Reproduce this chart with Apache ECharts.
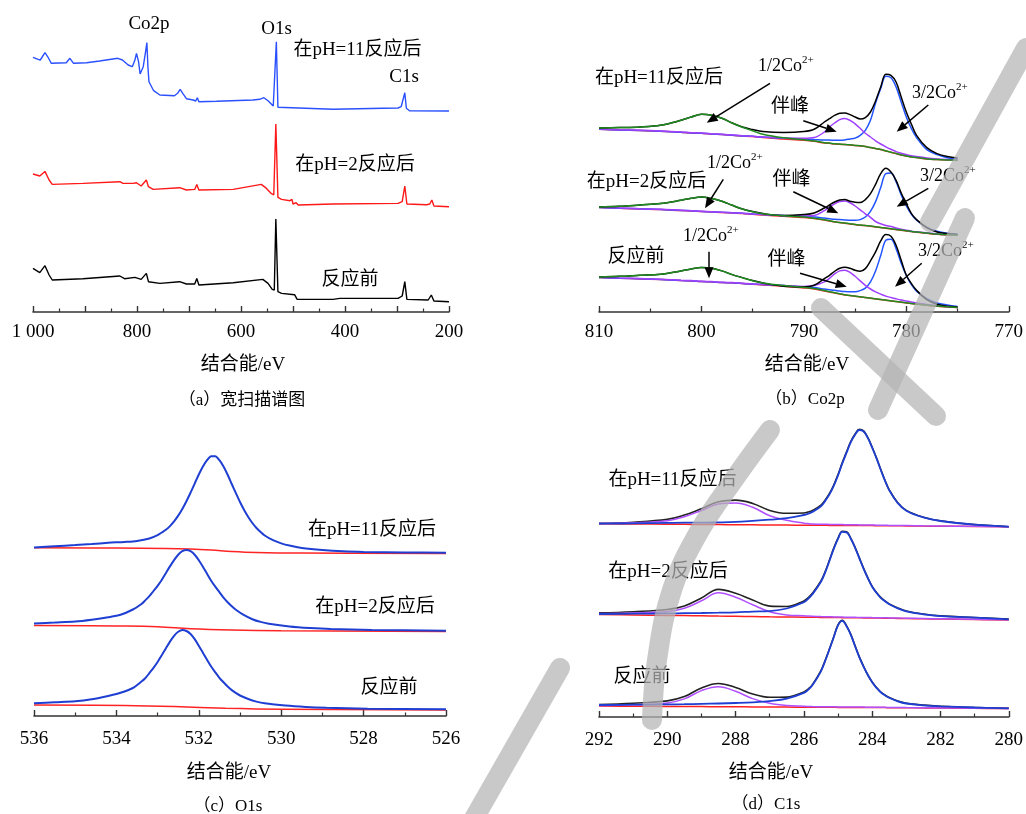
<!DOCTYPE html>
<html>
<head>
<meta charset="utf-8">
<script src="https://cdn.jsdelivr.net/npm/echarts@6/dist/echarts.min.js"></script>
<style>
  html, body { margin: 0; padding: 0; background: #fff; }
  #chart { width: 1026px; height: 814px; }
</style>
</head>
<body>
<div id="chart"></div>
<script>
// ---------- (a) survey spectra: binding energy (eV) / intensity (a.u.) ----------
const surveyE_pH11 = [1000, 990, 986, 977, 971, 965, 936, 929, 922, 897, 872, 837, 828, 817, 809, 804, 801, 797, 794, 788, 784, 781, 779, 777, 772, 768, 756, 728, 722, 717, 712, 705, 692, 687, 684, 681, 647, 577, 564, 556, 548, 538, 535, 532, 529, 526, 423, 327, 298, 292, 285, 282, 276, 200];
const surveyI_pH11 = [53.7, 51.7, 51, 58.3, 53.7, 47.7, 48.3, 52.7, 47.7, 48.3, 50, 52.7, 51, 46, 44.3, 51, 57.7, 49.3, 37, 44.3, 57.7, 68.3, 44.3, 29.3, 24.3, 20.3, 16, 15.3, 17.7, 21.7, 17.7, 12.3, 11, 10, 13.3, 9.3, 9.7, 11, 11.7, 13.3, 10.3, 5, 3.7, 69.3, 3.7, 2, 1.7, 2.7, 3, 4.3, 18.3, 2.7, 0.3, 0];
const surveyE_pH2 = [1000, 987, 977, 969, 963, 904, 833, 827, 808, 801, 792, 782, 778, 769, 718, 705, 689, 685, 681, 615, 561, 551, 542, 537, 533, 529, 522, 506, 502, 500, 494, 490, 423, 298, 290, 285, 281, 243, 237, 233, 229, 200];
const surveyI_pH2 = [32.7, 30.7, 35.3, 26.7, 22.3, 23.3, 25, 23.3, 23.3, 24, 20.7, 26.7, 20, 17.3, 19, 16.7, 17.3, 22.3, 16.7, 17.3, 22.3, 18.3, 13.3, 11.7, 82.7, 9.3, 7.3, 6, 7.3, 2.7, 4, 1.7, 2.7, 3.3, 5, 20.7, 2.7, 2, 2.7, 6.7, 0.7, 0];
const surveyE_fresh = [1000, 987, 977, 969, 963, 904, 833, 824, 804, 792, 782, 778, 756, 718, 705, 689, 685, 681, 615, 558, 548, 540, 536, 533, 529, 522, 497, 492, 423, 410, 298, 290, 285, 281, 240, 234, 229, 200];
const surveyI_fresh = [33.3, 29, 36, 26.7, 21.7, 23, 25.7, 23, 24.3, 22.3, 28.3, 20, 18.3, 20, 17.7, 17.7, 23.3, 16.7, 19, 22.3, 18.3, 12.3, 11.7, 82.7, 10, 8.3, 7, 2.3, 2.3, 3.3, 3.3, 5.7, 20, 2.3, 1.7, 6.7, 0.7, 0];

// ---------- (b) Co2p fits ----------
const coE = [810, 808, 806, 804, 802, 801, 800, 799, 798, 797, 796, 795, 794, 792, 790, 789, 788, 787.5, 787, 786.5, 786, 785.5, 785, 784.5, 784, 783.5, 783, 782.5, 782, 781.5, 781, 780.5, 780, 779.5, 779, 778, 777, 776, 775];
// pH = 11
const co11_bg    = [31, 30.3, 29.7, 29, 28, 27.3, 27, 26.3, 25.7, 25, 24.3, 23.7, 22.7, 21.3, 20, 19, 17.3, 17, 16.3, 16, 15.7, 15.3, 14.7, 14.3, 13.7, 12.7, 11.7, 10.7, 9.3, 8, 6.7, 5.3, 4.3, 3.3, 2.7, 1.3, 0.7, 0.3, 0];
const co11_half  = [32.3, 32.7, 33.3, 35, 40, 43.3, 46, 45, 42, 37.3, 33, 29.5, 26, 22.5, 20.5, 19.3, 17.6, 17.2, 16.5, 16.2, 15.9, 15.5, 14.9, 14.5, 13.8, 12.8, 11.8, 10.8, 9.4, 8.1, 6.8, 5.4, 4.4, 3.4, 2.8, 1.4, 0.8, 0.4, 0.1];
const co11_sat   = [31.3, 30.6, 30, 29.3, 28.3, 27.6, 27.3, 26.6, 26, 25.3, 24.6, 24, 23.2, 22.3, 22, 22.7, 28.3, 33.3, 37.3, 40.7, 41.7, 40, 36.5, 32, 27, 23.3, 19.5, 16.3, 13.5, 11, 8.7, 7, 5.7, 4.5, 3.8, 2.3, 1.3, 0.7, 0.3];
const co11_main  = [31.1, 30.4, 29.8, 29.1, 28.1, 27.4, 27.1, 26.4, 25.8, 25.1, 24.4, 24, 23.2, 22.1, 21.3, 20.8, 20.3, 20.3, 20, 20, 20.4, 21.3, 22.2, 25, 30, 40, 57.4, 71.7, 84, 82.5, 73.4, 58.3, 43.3, 31.6, 22.7, 10.6, 5.7, 2.6, 1.3];
const co11_env   = [32.3, 32.7, 33.3, 35, 40, 43.3, 46, 45, 42, 37.3, 33.3, 30.7, 28.7, 27.7, 28.7, 31, 38.3, 41.7, 45, 47, 47.3, 45.7, 43.3, 41.3, 42.7, 48.3, 59.3, 73.3, 86, 85, 78.3, 63.3, 48.3, 36, 25, 12.7, 6.7, 3.7, 2.3];
// pH = 2
const co2_bg     = [27.7, 27, 26.3, 25.7, 24.7, 24.3, 23.7, 23.3, 22.7, 22.3, 21.7, 21, 20.3, 19, 17.7, 16.7, 15.3, 14.3, 13.3, 12.7, 12, 11.3, 10.7, 10, 9.7, 9, 8.3, 7.7, 7, 6.3, 5.7, 5, 4.3, 3.7, 3, 2, 1, 0.3, 0];
const co2_half   = [28.3, 29, 30.3, 31.7, 35, 37, 38.3, 36.7, 34, 30, 26.3, 23.5, 21.5, 19.5, 18.2, 17, 15.6, 14.5, 13.5, 12.9, 12.2, 11.5, 10.9, 10.2, 9.9, 9.2, 8.5, 7.9, 7.2, 6.5, 5.9, 5.2, 4.5, 3.9, 3.2, 2.2, 1.2, 0.5, 0.1];
const co2_sat    = [28, 27.3, 26.6, 26, 25, 24.6, 24, 23.6, 23, 22.6, 22, 21.3, 20.7, 19.7, 19.2, 19.7, 24.6, 28.3, 31.5, 33.7, 34.2, 32.5, 29.3, 25.5, 21.5, 18, 13.8, 11.5, 9.8, 8.8, 7.3, 6, 5, 4.2, 3.5, 2.4, 1.4, 0.7, 0.3];
const co2_main   = [27.8, 27.1, 26.5, 25.9, 24.9, 24.5, 23.9, 23.5, 23, 22.6, 22.1, 21.4, 20.8, 19.8, 18.8, 18.2, 17.2, 16.6, 16, 15.7, 15.3, 15, 15, 15.7, 18.3, 24, 33.7, 47.7, 61.7, 62.3, 53.7, 40.3, 29.3, 21, 15, 8, 4, 2, 1];
const co2_env    = [28.3, 29, 30.3, 31.7, 35, 37, 38.3, 36.7, 34, 30, 26.3, 23.7, 21.7, 19.7, 20.7, 22.3, 27.3, 30.3, 33.3, 35.3, 35.7, 34, 33, 32.7, 35.7, 41.7, 51, 61.7, 67, 63.3, 55, 42.3, 31.7, 21.7, 15.7, 7.7, 3.3, 1.7, 0.7];
// before reaction
const co0_bg     = [30, 29.3, 28.7, 28, 27, 26.7, 26, 25.7, 25, 24.7, 24, 23.3, 22.7, 21.3, 19.7, 18.7, 16.7, 15.7, 14.7, 13.7, 12.7, 12, 11.3, 10.7, 10, 9.3, 8.7, 8, 7.3, 6.7, 6, 5.3, 4.7, 4, 3.3, 2.3, 1.3, 0.7, 0];
const co0_half   = [30.7, 31.3, 32.3, 33.3, 36.7, 38.7, 40, 39.3, 36.7, 33, 29.8, 26.8, 24.5, 22, 20.2, 19, 17, 15.9, 14.9, 13.9, 12.9, 12.2, 11.5, 10.9, 10.2, 9.5, 8.9, 8.2, 7.5, 6.9, 6.2, 5.5, 4.9, 4.2, 3.5, 2.5, 1.5, 0.8, 0.1];
const co0_sat    = [30.3, 29.6, 29, 28.3, 27.3, 27, 26.3, 26, 25.3, 25, 24.3, 23.6, 23.1, 22.1, 21.2, 22, 25.7, 29.2, 33.7, 36.7, 37.3, 35.3, 31.3, 26.7, 22.3, 18.6, 15.7, 13.5, 11.5, 10.1, 8.8, 7.6, 6.6, 5.6, 4.6, 3.2, 1.9, 1.1, 0.2];
const co0_main   = [30.1, 29.4, 28.8, 28.1, 27.1, 26.8, 26.1, 25.8, 25.1, 24.8, 24.2, 23.5, 23, 22, 20.7, 20.1, 18.5, 17.9, 17.3, 16.6, 16, 15.8, 15.8, 17, 19.5, 25.8, 36.7, 52, 67.3, 68.4, 59, 44.3, 32.2, 23, 16.5, 8.9, 4.6, 2.6, 1.1];
const co0_env    = [30.7, 31.3, 32.3, 33.3, 36.7, 38.7, 40, 39.3, 36.7, 33, 30, 27, 24.7, 21.3, 20.7, 22.3, 29, 32.3, 36.3, 39.3, 40.3, 39.3, 37.3, 36.3, 39, 46.7, 55.7, 66.7, 73, 71.3, 62.3, 47.3, 32.3, 24, 17.3, 8, 3.3, 1.3, 0.7];

// ---------- (c) O1s fits ----------
const o11E_fit = [536, 535.5, 535, 534.6, 534.2, 533.8, 533.5, 533.2, 533, 532.9, 532.8, 532.7, 532.6, 532.5, 532.4, 532.3, 532.2, 532.1, 532, 531.9, 531.8, 531.7, 531.6, 531.5, 531.4, 531.3, 531.2, 531.1, 531, 530.9, 530.8, 530.7, 530.6, 530.5, 530.4, 530.2, 530, 529.8, 529.5, 529, 528.5, 528, 527, 526];
const o11I_fit = [5.3, 6.5, 7.6, 8.7, 9.9, 10.8, 11.8, 14.2, 17.6, 20.2, 22.9, 26.6, 31.3, 37.1, 43.8, 51.5, 60.1, 69.1, 78.2, 86.2, 92.5, 96.5, 96.5, 92.5, 86.2, 78, 68.7, 59.5, 50.7, 42.7, 35.7, 29.7, 24.7, 20.7, 17.2, 12.5, 9.3, 7.1, 4.8, 2.7, 1.4, 0.8, 0.3, 0];
const o11E_bg  = [536, 534, 532.8, 532.2, 531.7, 531.2, 530.6, 529.5, 526];
const o11I_bg  = [5, 4.7, 4.3, 3.7, 2.7, 1.3, 0.3, -0.3, -0.7];
const o2E_fit  = [536, 535.5, 535, 534.6, 534.2, 533.9, 533.6, 533.4, 533.3, 533.2, 533.1, 533, 532.9, 532.8, 532.7, 532.6, 532.5, 532.4, 532.3, 532.2, 532.1, 532, 531.9, 531.8, 531.7, 531.6, 531.5, 531.4, 531.3, 531.2, 531.1, 530.9, 530.7, 530.5, 530.3, 529.8, 529.3, 528.8, 527.8, 526];
const o2I_fit  = [7.3, 8.2, 9.2, 11, 13.4, 15.9, 21.2, 26.5, 30.3, 34.5, 39.7, 44.9, 50.7, 57.5, 64.3, 70.6, 76, 79.5, 80.7, 79.5, 76, 70.5, 64, 57, 50, 44, 38.5, 33, 28.5, 24.5, 21, 15.5, 11.5, 8.8, 7, 4.2, 2.6, 1.6, 0.8, 0];
const o2E_bg   = [536, 534, 533, 532.2, 531.2, 530, 526];
const o2I_bg   = [5.3, 4.7, 4, 2, 0.7, 0, -0.7];
const o0E_fit  = [536, 535.5, 535, 534.6, 534.2, 533.9, 533.6, 533.4, 533.3, 533.2, 533.1, 533, 532.9, 532.8, 532.7, 532.6, 532.5, 532.4, 532.3, 532.2, 532.1, 532, 531.9, 531.8, 531.7, 531.6, 531.5, 531.4, 531.3, 531.2, 531, 530.8, 530.6, 530.4, 529.9, 529.4, 528.9, 527.9, 526];
const o0I_fit  = [6, 7, 8, 10, 13.3, 16.5, 21.3, 27.5, 31, 36.2, 41.4, 47.3, 54, 60.9, 67.7, 73.5, 77.5, 79.3, 78.3, 75.3, 70.2, 63.5, 56.5, 49.5, 42.8, 37, 31.5, 27, 22.8, 19.2, 13.8, 10.3, 7.7, 6, 3.7, 2.3, 1.5, 0.6, 0];
const o0E_bg   = [536, 533.8, 532.6, 531.35, 530, 526];
const o0I_bg   = [4.3, 3.7, 2.7, 1, 0, -0.7];

// ---------- (d) C1s fits ----------
const cE = [292, 291, 290, 289.5, 289, 288.5, 288, 287.5, 287, 286.5, 286, 285.875, 285.75, 285.5, 285.375, 285.25, 285.125, 285, 284.875, 284.75, 284.625, 284.5, 284.375, 284.25, 284.125, 284, 283.875, 283.75, 283.625, 283.5, 283.25, 283, 282.5, 282, 281, 280];
const c11_bg   = [3, 2.7, 2.5, 2.4, 2.2, 2.1, 2, 1.9, 1.7, 1.6, 1.5, 1.45, 1.4, 1.4, 1.35, 1.3, 1.3, 1.3, 1.25, 1.2, 1.2, 1.2, 1.15, 1.1, 1.1, 1.1, 1.05, 1, 0.95, 0.9, 0.85, 0.8, 0.6, 0.5, 0.3, 0];
const c11_cc   = [3, 3.3, 3.8, 4, 4, 4.3, 4.8, 5.8, 7, 8.5, 11.7, 13, 14.8, 20.5, 25.8, 32.3, 40.8, 51.3, 63.2, 74, 84.5, 92, 96.7, 95.2, 88.5, 79, 68.5, 57, 46, 36.5, 23.5, 16, 9.3, 5.7, 2, 0];
const c11_oco  = [3.3, 3.9, 6, 10, 16.2, 22.7, 23.8, 19.4, 11, 6.5, 3.5, 3.1, 2.8, 2.5, 2.4, 2.3, 2.2, 2.15, 2.1, 2, 1.95, 1.9, 1.8, 1.7, 1.65, 1.6, 1.55, 1.45, 1.38, 1.3, 1.2, 1.1, 0.85, 0.7, 0.4, 0];
const c11_env  = [3.3, 4.5, 7.3, 11.6, 18, 24.9, 26.6, 23.3, 16.3, 13.4, 13.7, 14.65, 16.2, 21.6, 26.85, 33.3, 41.7, 52.15, 64.05, 74.8, 85.25, 92.7, 97.35, 95.8, 89.05, 79.5, 69, 57.45, 46.43, 36.9, 23.85, 16.3, 9.55, 5.9, 2.1, 0];
const c2_bg    = [4.7, 4.3, 3.9, 3.7, 3.5, 3.2, 3, 2.8, 2.5, 2.3, 2.1, 2.05, 2, 1.9, 1.85, 1.8, 1.75, 1.7, 1.65, 1.6, 1.55, 1.5, 1.45, 1.4, 1.35, 1.3, 1.25, 1.2, 1.1, 1, 0.9, 0.8, 0.5, 0.3, -0.2, -0.7];
const c2_cc    = [5.3, 5.6, 5.9, 6.1, 6.3, 6.6, 7, 7.7, 8.2, 10.8, 17, 20.5, 25, 37.5, 47, 58.5, 70.5, 80.5, 87.5, 87, 80.5, 71.5, 61, 50.5, 41, 32.5, 26.5, 21.5, 18, 15, 11, 8, 5, 3.2, 1.6, 0];
const c2_oco   = [5.8, 6.3, 7.8, 11, 18.5, 26.5, 22, 14.5, 7.5, 4.3, 3.5, 3.2, 3, 2.7, 2.6, 2.5, 2.4, 2.3, 2.2, 2.1, 2, 1.95, 1.9, 1.85, 1.8, 1.7, 1.65, 1.6, 1.5, 1.4, 1.25, 1.1, 0.8, 0.5, 0, -0.5];
const c2_env   = [6.4, 7.6, 9.8, 13.4, 21.3, 29.9, 26, 19.4, 13.2, 12.8, 18.4, 21.65, 26, 38.3, 47.75, 59.2, 71.15, 81.1, 88.05, 87.5, 80.95, 71.95, 61.45, 50.95, 41.45, 32.9, 26.9, 21.9, 18.4, 15.4, 11.35, 8.3, 5.3, 3.4, 1.8, 0.2];
const c0_bg    = [2.3, 2.1, 1.9, 1.8, 1.7, 1.6, 1.5, 1.4, 1.3, 1.2, 1.1, 1.08, 1.05, 1, 0.98, 0.96, 0.94, 0.92, 0.9, 0.88, 0.86, 0.84, 0.82, 0.8, 0.78, 0.76, 0.74, 0.72, 0.68, 0.65, 0.58, 0.5, 0.4, 0.3, 0, -0.3];
const c0_cc    = [3.3, 3.6, 3.9, 4.1, 4.4, 4.8, 5.3, 6, 7.2, 9.6, 15.4, 18.5, 23, 37, 47.5, 59, 71, 83, 87.5, 82, 73.5, 62, 51, 41.5, 33, 26, 20.5, 16, 13, 10.5, 7, 4.8, 3, 2, 0.8, 0];
const c0_oco   = [2.7, 3.6, 5.4, 9.4, 17.7, 21.6, 17, 9.7, 5.1, 2.8, 2, 1.85, 1.75, 1.6, 1.56, 1.52, 1.48, 1.42, 1.38, 1.34, 1.3, 1.26, 1.22, 1.18, 1.14, 1.1, 1.06, 1.02, 0.95, 0.9, 0.8, 0.7, 0.55, 0.4, 0.05, -0.3];
const c0_env   = [3.7, 5.1, 7.4, 11.7, 20.4, 24.8, 20.8, 14.3, 11, 11.2, 16.3, 19.27, 23.7, 37.6, 48.08, 59.56, 71.54, 83.5, 87.98, 82.46, 73.94, 62.42, 51.4, 41.88, 33.36, 26.34, 20.82, 16.3, 13.27, 10.75, 7.22, 5, 3.15, 2.1, 0.85, 0];

// sample labels
const sampleNames = ['在pH=11反应后', '在pH=2反应后', '反应前'];
const axisTitle = '结合能/eV';
const captions = ['（a）宽扫描谱图', '（b）Co2p', '（c）O1s', '（d）C1s'];

// ---------- layout / style ----------
const SERIF = "'Liberation Serif','Noto Sans CJK SC',serif";
const AXIS_COLOR = '#333';
const grids = [
  { left: 33, top: 30, width: 416, height: 282 },   // a
  { left: 599, top: 30, width: 414, height: 282 },  // b
  { left: 34, top: 420, width: 412, height: 296 },  // c
  { left: 599, top: 420, width: 411, height: 297 }  // d
];
const xRanges = [
  { min: 200, max: 1000, interval: 100, labelEvery: 200, margin: 11 },
  { min: 770, max: 810, interval: 10, labelEvery: 10, margin: 11 },
  { min: 526, max: 536, interval: 2, labelEvery: 2, margin: 14 },
  { min: 280, max: 292, interval: 2, labelEvery: 2, margin: 14 }
];
// vertical stacking of the three samples in each panel (pH11, pH2, fresh)
const stackOffset = [
  [201, 105.3, 10.3],
  [151.7, 76.7, 4.4],
  [163.3, 85.3, 6.7],
  [190.3, 97.7, 8.7]
];

const chart = echarts.init(document.getElementById('chart'), null, { renderer: 'canvas' });

const xAxes = xRanges.map((r, i) => ({
  type: 'value', gridIndex: i, inverse: true,
  min: r.min, max: r.max, interval: r.interval,
  axisLine: { show: true, onZero: false, lineStyle: { color: AXIS_COLOR, width: 1.6 } },
  axisTick: { show: true, inside: true, length: 6, lineStyle: { color: AXIS_COLOR, width: 1.4 } },
  minorTick: { show: true, splitNumber: 2, length: 3.5, lineStyle: { color: AXIS_COLOR, width: 1.2 } },
  splitLine: { show: false }, minorSplitLine: { show: false },
  axisLabel: {
    show: true, margin: r.margin, color: '#000', fontSize: 19, fontFamily: SERIF,
    showMinLabel: true, showMaxLabel: true,
    formatter: v => {
      if (Math.round(v) % r.labelEvery !== 0) return '';
      return v === 1000 ? '1 000' : String(v);
    }
  }
}));
const yAxes = grids.map((g, i) => ({
  type: 'value', gridIndex: i, min: 0, max: g.height, show: false
}));

function line(gi, xs, ys, off, color, width, z, smooth) {
  return {
    type: 'line', xAxisIndex: gi, yAxisIndex: gi,
    data: xs.map((x, k) => [x, ys[k] + off]),
    showSymbol: false, symbol: 'none', smooth: smooth, clip: false, silent: true,
    lineStyle: { color: color, width: width }, z: z, animation: false
  };
}

const series = [];
// (a)
const BLUE_A = '#2a50ff', RED_A = '#ff1818';
series.push(line(0, surveyE_pH11, surveyI_pH11, stackOffset[0][0], BLUE_A, 1.4, 3, false));
series.push(line(0, surveyE_pH2, surveyI_pH2, stackOffset[0][1], RED_A, 1.4, 3, false));
series.push(line(0, surveyE_fresh, surveyI_fresh, stackOffset[0][2], '#000', 1.4, 3, false));
// (b): background, Co 2p3/2 main line, satellite, envelope, Co 2p1/2
const coSets = [
  [co11_bg, co11_half, co11_sat, co11_main, co11_env],
  [co2_bg, co2_half, co2_sat, co2_main, co2_env],
  [co0_bg, co0_half, co0_sat, co0_main, co0_env]
];
coSets.forEach((s, k) => {
  const off = stackOffset[1][k];
  series.push(line(1, coE, s[0], off, '#ff2a2a', 1.5, 2, 0.35));
  series.push(line(1, coE, s[3], off, '#2255ff', 1.5, 3, 0.35));
  series.push(line(1, coE, s[2], off, '#a040ff', 1.5, 4, 0.35));
  series.push(line(1, coE, s[4], off, '#000', 1.5, 5, 0.35));
  series.push(line(1, coE, s[1], off, '#1f8a1f', 1.5, 6, 0.35));
});
// (c)
const BLUE_C = '#1f3fd2';
const oSets = [
  [o11E_bg, o11I_bg, o11E_fit, o11I_fit],
  [o2E_bg, o2I_bg, o2E_fit, o2I_fit],
  [o0E_bg, o0I_bg, o0E_fit, o0I_fit]
];
oSets.forEach((s, k) => {
  const off = stackOffset[2][k];
  series.push(line(2, s[0], s[1], off, '#ff2424', 1.5, 3, 0.4));
  series.push(line(2, s[2], s[3], off, BLUE_C, 2, 4, 0.3));
});
// (d)
const cSets = [
  [c11_bg, c11_cc, c11_oco, c11_env],
  [c2_bg, c2_cc, c2_oco, c2_env],
  [c0_bg, c0_cc, c0_oco, c0_env]
];
cSets.forEach((s, k) => {
  const off = stackOffset[3][k];
  series.push(line(3, cE, s[0], off, '#ff2020', 1.5, 2, 0.4));
  series.push(line(3, cE, s[3], off, '#222', 1.6, 3, 0.4));
  series.push(line(3, cE, s[2], off, '#b050ff', 1.5, 4, 0.4));
  series.push(line(3, cE, s[1], off, BLUE_C, 1.8, 5, 0.4));
});

// ---------- annotations ----------
const graphics = [];
function text(x, y, str, size, align) {
  graphics.push({
    type: 'text', x: x, y: y, silent: true, z: 50,
    style: { text: str, fill: '#000', font: size + 'px ' + SERIF, align: align || 'center', verticalAlign: 'middle' }
  });
}
function ionText(x, y, str) {
  // "1/2Co" with a raised "2+"
  graphics.push({
    type: 'text', x: x, y: y, silent: true, z: 50,
    style: {
      text: '{m|' + str + '}{s|2+}', align: 'left', verticalAlign: 'middle',
      rich: {
        m: { fontSize: 18, fontFamily: SERIF, fill: '#000', lineHeight: 20, verticalAlign: 'bottom' },
        s: { fontSize: 11, fontFamily: SERIF, fill: '#000', lineHeight: 20, verticalAlign: 'top' }
      }
    }
  });
}
function arrow(x1, y1, x2, y2, color) {
  const a = Math.atan2(y2 - y1, x2 - x1);
  const L = 11, W = 4.5;
  const bx = x2 - L * Math.cos(a), by = y2 - L * Math.sin(a);
  const nx = -Math.sin(a), ny = Math.cos(a);
  graphics.push({ type: 'line', silent: true, z: 40, shape: { x1: x1, y1: y1, x2: bx, y2: by }, style: { stroke: color, lineWidth: 1.5 } });
  graphics.push({ type: 'polygon', silent: true, z: 40, shape: { points: [[x2, y2], [bx + W * nx, by + W * ny], [bx - W * nx, by - W * ny]] }, style: { fill: color } });
}

// (a)
text(149, 24, 'Co2p', 19);
text(276.5, 29, 'O1s', 19);
text(404, 77, 'C1s', 19);
text(357.5, 50, sampleNames[0], 19);
text(355, 165, sampleNames[1], 19);
text(350, 280, sampleNames[2], 19);
// (b)
text(659, 78, sampleNames[0], 19);
text(646.5, 182, sampleNames[1], 19);
text(636, 257, sampleNames[2], 19);
ionText(758, 65, '1/2Co'); ionText(707, 162, '1/2Co'); ionText(683, 235, '1/2Co');
ionText(912, 92, '3/2Co'); ionText(920, 175, '3/2Co'); ionText(918, 250, '3/2Co');
text(790, 107, '伴峰', 19); text(791.5, 180, '伴峰', 19); text(786.5, 260, '伴峰', 19);
arrow(770, 83.3, 706.7, 122.7, '#000');
arrow(803.3, 120.7, 836.7, 131.7, '#000');
arrow(928.3, 105, 896.7, 131.7, '#000');
arrow(723.3, 179.3, 705, 208.3, '#000');
arrow(793.3, 191.7, 838.3, 213.3, '#000');
arrow(928.3, 188.3, 896.7, 206.7, '#000');
arrow(709, 251.7, 709, 278.3, '#000');
arrow(800, 273.3, 846.7, 286.7, '#000');
arrow(921.7, 263.3, 895, 286.7, '#000');
// (c)
text(372, 530, sampleNames[0], 19);
text(375, 607, sampleNames[1], 19);
text(389, 688, sampleNames[2], 19);
// (d)
text(672.5, 480, sampleNames[0], 19);
text(668, 572, sampleNames[1], 19);
text(642, 677, sampleNames[2], 19);
// axis titles and captions
text(243, 365, axisTitle, 19); text(807, 365, axisTitle, 19);
text(229, 773, axisTitle, 19); text(771, 773, axisTitle, 19);
text(242, 401, captions[0], 17); text(805, 400, captions[1], 17);
text(228, 807, captions[2], 17); text(766, 805, captions[3], 17);

// translucent grey watermark strokes laid over the right-hand panels
const watermarkPaths = [
  [[1026, 48], [930, 222]],
  [[965, 218], [878, 410]],
  [[821, 308], [936, 416]],
  [[770, 430], [735, 478], [700, 530], [672, 590], [657, 660], [652, 720]],
  [[472, 822], [560, 668]]
];
watermarkPaths.forEach(p => {
  graphics.push({
    type: 'polyline', silent: true, z: 100,
    shape: { points: p, smooth: p.length > 2 ? 0.4 : 0 },
    style: { stroke: 'rgba(180,180,180,0.72)', lineWidth: 20, lineCap: 'round', lineJoin: 'round', fill: null }
  });
});

chart.setOption({
  animation: false,
  backgroundColor: '#fff',
  grid: grids.map(g => Object.assign({ containLabel: false }, g)),
  xAxis: xAxes,
  yAxis: yAxes,
  series: series,
  graphic: { elements: graphics }
});
</script>
</body>
</html>
